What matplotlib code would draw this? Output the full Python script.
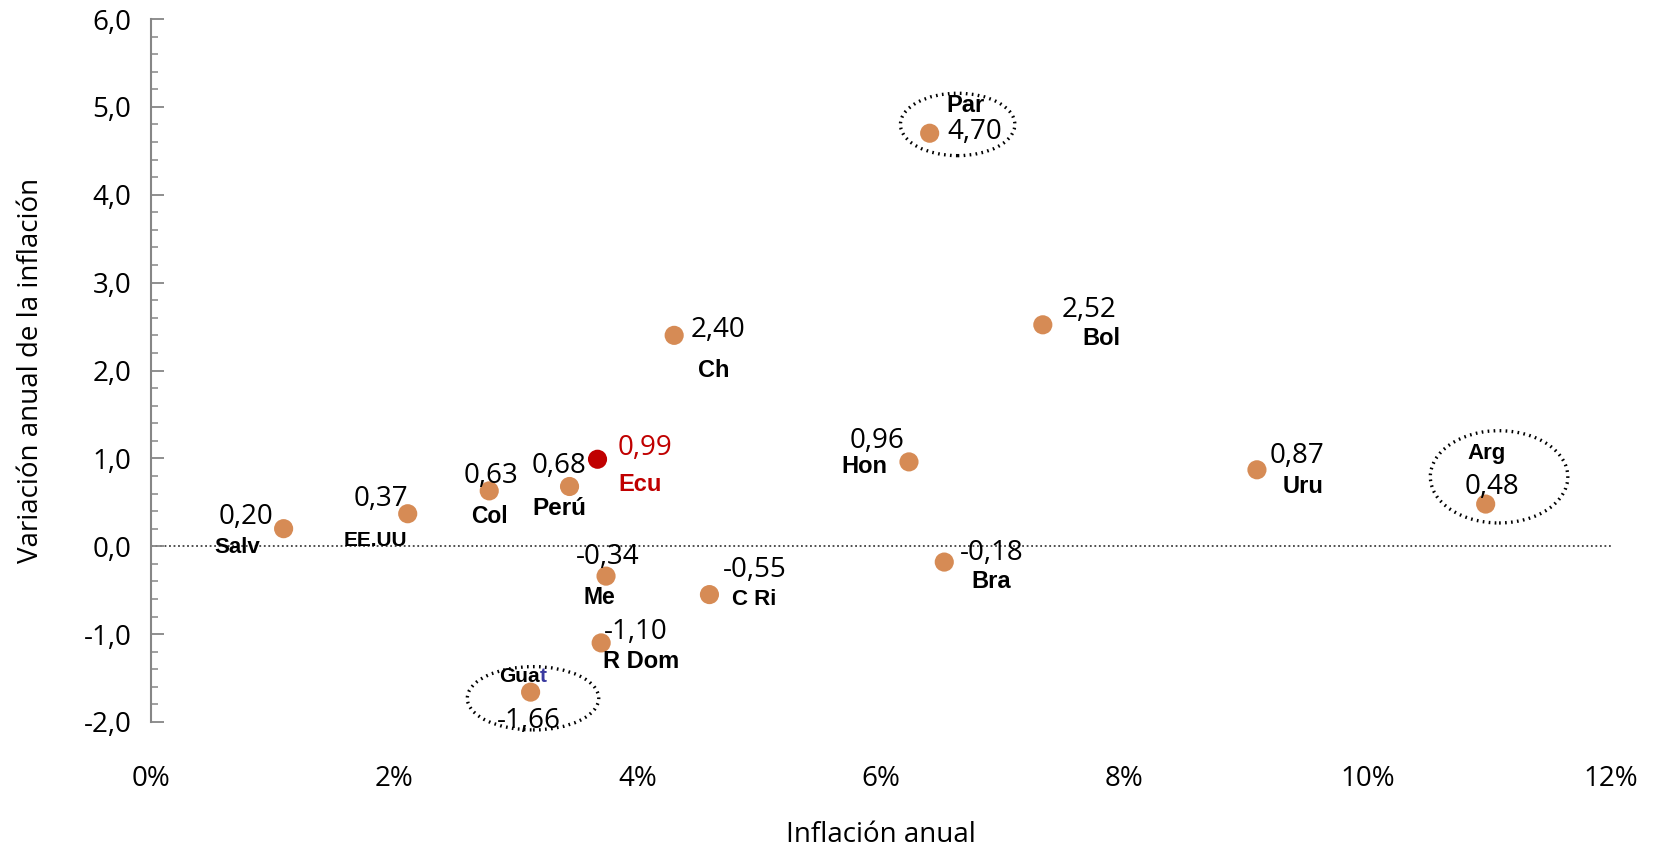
import numpy as np
import matplotlib.pyplot as plt
from matplotlib.patches import Ellipse
from matplotlib.ticker import MultipleLocator, FuncFormatter

# datos: inflacion anual (%) y variacion anual de la inflacion
paises = ["Salv", "EE.UU", "Col", "Perú", "Ecu", "Me", "R Dom", "Guat",
          "Ch", "C Ri", "Hon", "Par", "Bra", "Bol", "Uru", "Arg"]
inflacion = [1.09, 2.11, 2.78, 3.44, 3.67, 3.74, 3.70, 3.12,
             4.30, 4.59, 6.23, 6.40, 6.52, 7.33, 9.09, 10.97]
variacion = [0.20, 0.37, 0.63, 0.68, 0.99, -0.34, -1.10, -1.66,
             2.40, -0.55, 0.96, 4.70, -0.18, 2.52, 0.87, 0.48]
etiquetas = ["0,20", "0,37", "0,63", "0,68", "0,99", "-0,34", "-1,10", "-1,66",
             "2,40", "-0,55", "0,96", "4,70", "-0,18", "2,52", "0,87", "0,48"]
resaltados = ["Par", "Arg", "Guat"]

# posicion de las etiquetas (px de la imagen reducida, relativo al punto)
off_val = {"Salv": (-36, 11), "EE.UU": (-25, 14), "Col": (2, 14), "Perú": (-10, 19),
           "Ecu": (45, 11), "Me": (2, 18), "R Dom": (33, 10), "Guat": (-2, -27),
           "Ch": (41, 5), "C Ri": (43, 23), "Hon": (-30, 20), "Par": (43, 1),
           "Bra": (45, 9), "Bol": (44, 14), "Uru": (38, 13), "Arg": (6, 16)}
off_pais = {"Salv": (-44, -18), "EE.UU": (-31, -25), "Col": (0, -24), "Perú": (-10, -21),
            "Ecu": (40, -24), "Me": (-6, -20), "R Dom": (38, -18), "Guat": (-2, 15),
            "Ch": (37, -33), "C Ri": (42, -5), "Hon": (-42, -4), "Par": (34, 26),
            "Bra": (44, -18), "Bol": (55, -13), "Uru": (44, -16), "Arg": (1, 48)}
size_pais = {"Salv": 16, "EE.UU": 15, "Hon": 17, "Guat": 15, "Par": 17, "Ecu": 17,
             "Perú": 17.5, "Col": 16.5, "Me": 16.5, "C Ri": 16, "Arg": 16}
size_val = {"Par": 20}
elipses = {"Par": (6.63, 4.80, 0.94, 0.71), "Arg": (11.08, 0.79, 1.13, 1.05),
           "Guat": (3.14, -1.73, 1.08, 0.72)}

NARANJA = "#D68B55"
ROJO = "#C00000"
K = 1.058 * 0.72  # px reducidos -> puntos

fig = plt.figure(figsize=(16.59, 8.51), dpi=100)
ax = fig.add_axes([151 / 1659, 1 - 722 / 851, 1460 / 1659, 703 / 851])

colores = [ROJO if p == "Ecu" else NARANJA for p in paises]
ax.scatter(inflacion, variacion, s=190, c=colores, zorder=3, linewidths=0)

ax.axhline(0, color="#404040", lw=1.3, ls=(0, (1, 1.5)), zorder=1)

for p, x, y, v in zip(paises, inflacion, variacion, etiquetas):
    col = ROJO if p == "Ecu" else "black"
    dx, dy = off_val[p]
    ax.annotate(v, (x, y), xytext=(dx * K, dy * K), textcoords="offset points",
                ha="center", va="center", fontsize=size_val.get(p, 20), color=col,
                family="Open Sans")
    dx, dy = off_pais[p]
    fs = size_pais.get(p, 17)
    if p == "Guat":
        ax.annotate("Gua", (x, y), xytext=(dx * K + 8, dy * K), textcoords="offset points",
                    ha="right", va="center", fontsize=fs, fontweight="bold",
                    family="Liberation Sans", color="black")
        ax.annotate("t", (x, y), xytext=(dx * K + 8, dy * K), textcoords="offset points",
                    ha="left", va="center", fontsize=fs, fontweight="bold",
                    family="Liberation Sans", color="#3A3AA0")
    else:
        ax.annotate(p, (x, y), xytext=(dx * K, dy * K), textcoords="offset points",
                    ha="center", va="center", fontsize=fs, fontweight="bold",
                    family="Liberation Sans", color=col)

for p in resaltados:
    cx, cy, w, h = elipses[p]
    ax.add_patch(Ellipse((cx, cy), w, h, fill=False, ec="black", lw=2.4,
                         ls=(0, (0.5, 1.3)), clip_on=False, zorder=4))

ax.set_xlim(0, 12)
ax.set_ylim(-2, 6)
ax.xaxis.set_major_locator(MultipleLocator(2))
ax.xaxis.set_major_formatter(FuncFormatter(lambda v, _: f"{v:.0f}%"))
ax.yaxis.set_major_locator(MultipleLocator(1))
ax.yaxis.set_minor_locator(MultipleLocator(0.2))
ax.yaxis.set_major_formatter(FuncFormatter(lambda v, _: f"{v:.1f}".replace(".", ",")))

for s in ["top", "right", "bottom"]:
    ax.spines[s].set_visible(False)
ax.spines["left"].set_color("#868686")
ax.spines["left"].set_linewidth(1.5)
ax.tick_params(axis="y", which="major", direction="in", length=9, width=1.3,
               color="#868686", labelsize=20, pad=14)
ax.tick_params(axis="y", which="minor", direction="in", length=5, width=1.1,
               color="#868686")
ax.tick_params(axis="x", length=0, labelsize=20, pad=31)
for t in ax.get_xticklabels() + ax.get_yticklabels():
    t.set_family("Open Sans")

ax.set_xlabel("Inflación anual", fontsize=20, family="Open Sans", labelpad=20)
ax.set_ylabel("Variación anual de la inflación", fontsize=20, family="Open Sans",
              labelpad=28)

plt.savefig("out.png", dpi=100)
